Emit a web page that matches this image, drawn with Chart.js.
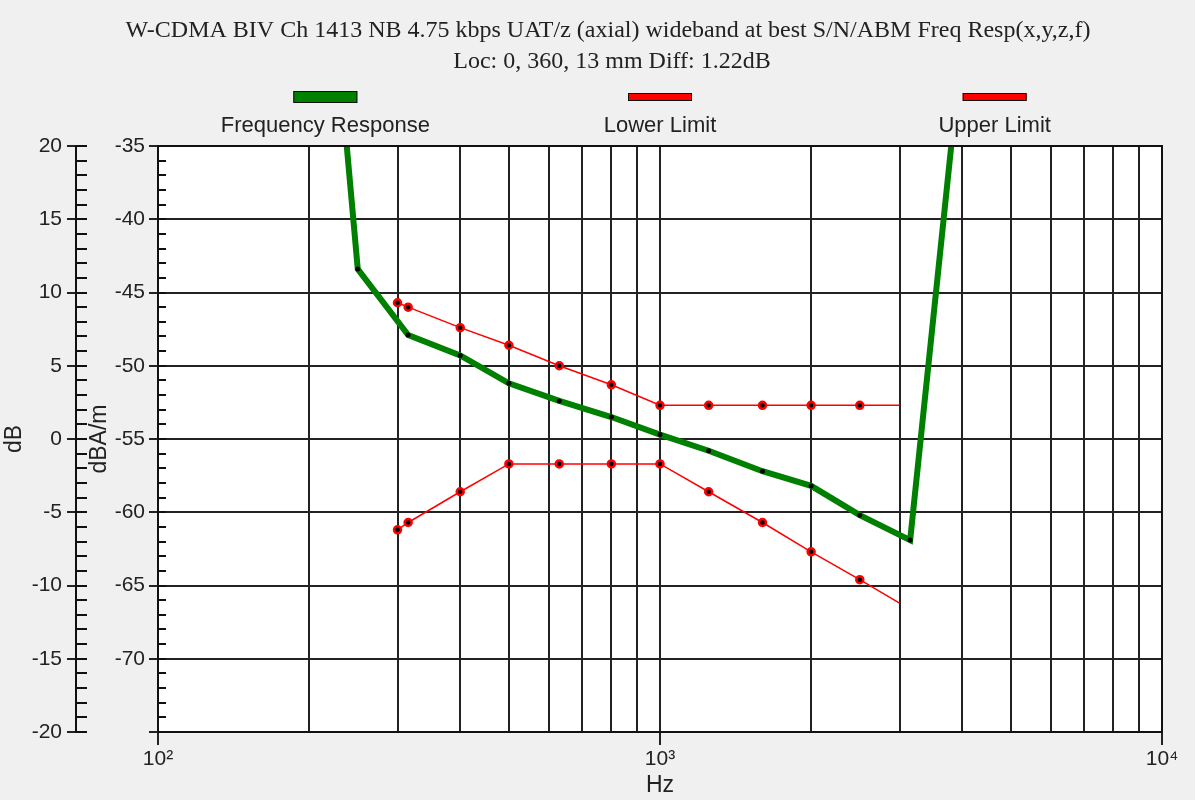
<!DOCTYPE html>
<html>
<head>
<meta charset="utf-8">
<title>Freq Resp</title>
<script src="https://cdn.jsdelivr.net/npm/chart.js@4"></script>
<style>
  body { margin: 0; background: #f0f0f0; }
  #wrap { width: 1195px; height: 800px; }
</style>
</head>
<body>
<div id="wrap"><canvas id="resp"></canvas></div>
<script>
// mitattu vaste (Hz, dBA/m)
const respFreq = [200, 250, 315, 400, 500, 630, 800, 1000, 1250, 1600, 2000, 2500, 3150, 4000];
const respLevel = [-6.3, -43.4, -47.9, -49.3, -51.2, -52.4, -53.5, -54.7, -55.8, -57.2, -58.2, -60.2, -61.9, -27.8];

// rajat
const limitFreq = [300, 315, 400, 500, 630, 800, 1000, 1250, 1600, 2000, 2500, 3000];
const lowerLevel = [-61.2, -60.7, -58.6, -56.7, -56.7, -56.7, -56.7, -58.6, -60.7, -62.7, -64.6, -66.2];
const upperLevel = [-45.7, -46.0, -47.4, -48.6, -50.0, -51.3, -52.7, -52.7, -52.7, -52.7, -52.7, -52.7];

// akselit
const xGridValues = [100, 200, 300, 400, 500, 600, 700, 800, 900,
                     1000, 2000, 3000, 4000, 5000, 6000, 7000, 8000, 9000, 10000];
const xTickValues = [100, 1000, 10000];
const xTickLabels = ['10²', '10³', '10⁴'];

const titleText = 'W-CDMA BIV Ch 1413 NB 4.75 kbps UAT/z (axial) wideband at best S/N/ABM Freq Resp(x,y,z,f)';
const subtitleText = 'Loc: 0, 360, 13 mm Diff: 1.22dB';

const sans = 'Liberation Sans';
const serif = 'Liberation Serif';
const textColor = '#222';

const toPoints = (xs, ys) => xs.map((x, i) => ({ x: x, y: ys[i] }));
const lastHidden = (n) => (ctx) => ctx.dataIndex === n - 1 ? 0 : 3.5;

// valkoinen kuva-ala + kehys + pienet tikit
const plotDecor = {
    id: 'plotDecor',
    beforeDraw(chart) {
        const { ctx, chartArea } = chart;
        ctx.save();
        ctx.fillStyle = '#fff';
        ctx.fillRect(chartArea.left, chartArea.top, chartArea.width, chartArea.height);
        ctx.restore();
    },
    afterDraw(chart) {
        const { ctx, chartArea } = chart;
        const yA = chart.scales.y;
        const yB = chart.scales.yDb;
        ctx.save();
        ctx.strokeStyle = '#111';
        ctx.lineWidth = 2;
        ctx.strokeRect(chartArea.left, chartArea.top, chartArea.width, chartArea.height);

        ctx.beginPath();
        for (let v = yA.min; v <= yA.max; v++) {
            const py = Math.round(yA.getPixelForValue(v));
            ctx.moveTo(chartArea.left, py);
            ctx.lineTo(chartArea.left + 8, py);
        }
        for (let v = yB.min; v <= yB.max; v++) {
            const py = Math.round(yB.getPixelForValue(v));
            ctx.moveTo(yB.right, py);
            ctx.lineTo(yB.right + 11, py);
        }
        ctx.stroke();
        ctx.restore();
    }
};

// otsikot + selite (laatikko tekstin yläpuolella)
const headerLegend = {
    id: 'headerLegend',
    afterDraw(chart) {
        const { ctx, chartArea } = chart;
        const sets = chart.data.datasets;
        ctx.save();
        ctx.fillStyle = textColor;
        ctx.textAlign = 'center';
        ctx.textBaseline = 'middle';
        ctx.font = '24px "' + serif + '"';
        ctx.fillText(titleText, 608, 31);
        ctx.fillText(subtitleText, 612, 62);

        sets.forEach((ds, i) => {
            const cx = chartArea.left + chartArea.width * (2 * i + 1) / (2 * sets.length);
            const h = ds.borderWidth > 3 ? 12 : 8;
            const top = chartArea.top - 49 - h / 2;
            ctx.fillStyle = ds.borderColor;
            ctx.fillRect(cx - 32, top, 64, h);
            ctx.strokeStyle = '#111';
            ctx.lineWidth = 1;
            ctx.strokeRect(cx - 32 + 0.5, top + 0.5, 63, h - 1);

            ctx.fillStyle = textColor;
            ctx.font = '22px "' + sans + '"';
            ctx.fillText(ds.label, cx, chartArea.top - 20);
        });
        ctx.restore();
    }
};

const context = document.getElementById('resp').getContext('2d');
const respChart = new Chart(context, {
    type: 'line',
    data: {
        datasets: [{
            label: 'Frequency Response',
            data: toPoints(respFreq, respLevel),
            borderColor: '#008000',
            borderWidth: 6,
            pointRadius: 2.5,
            pointBackgroundColor: '#000',
            pointBorderWidth: 0,
            tension: 0
        }, {
            label: 'Lower Limit',
            data: toPoints(limitFreq, lowerLevel),
            borderColor: '#ff0000',
            borderWidth: 1.5,
            pointRadius: lastHidden(limitFreq.length),
            pointBackgroundColor: '#000',
            pointBorderColor: '#ff0000',
            pointBorderWidth: 2.5,
            tension: 0
        }, {
            label: 'Upper Limit',
            data: toPoints(limitFreq, upperLevel),
            borderColor: '#ff0000',
            borderWidth: 1.5,
            pointRadius: lastHidden(limitFreq.length),
            pointBackgroundColor: '#000',
            pointBorderColor: '#ff0000',
            pointBorderWidth: 2.5,
            tension: 0
        }]
    },
    options: {
        responsive: true,
        maintainAspectRatio: false,
        animation: false,
        events: [],
        layout: { padding: { left: 0, right: 33, top: 146, bottom: 0 } },
        plugins: {
            legend: { display: false },
            tooltip: { enabled: false }
        },
        scales: {
            x: {
                type: 'logarithmic',
                position: 'bottom',
                min: 100,
                max: 10000,
                afterBuildTicks: (scale) => {
                    scale.ticks = xGridValues.map((v) => ({ value: v }));
                },
                afterFit: (scale) => { scale.height = 68; },
                ticks: {
                    autoSkip: false,
                    maxRotation: 0,
                    padding: 2,
                    color: textColor,
                    font: { family: sans, size: 21 },
                    callback: (value) => {
                        const k = xTickValues.indexOf(value);
                        return k >= 0 ? xTickLabels[k] : '';
                    }
                },
                grid: {
                    color: '#222',
                    lineWidth: 2,
                    tickLength: 13,
                    tickColor: (ctx) => xTickValues.includes(ctx.tick && ctx.tick.value) ? '#222' : 'rgba(0,0,0,0)'
                },
                border: { color: '#111', width: 2 },
                title: {
                    display: true,
                    text: 'Hz',
                    color: textColor,
                    font: { family: sans, size: 23 },
                    padding: { top: 0, bottom: 1 }
                }
            },
            y: {
                position: 'left',
                weight: 0,
                min: -75,
                max: -35,
                afterFit: (scale) => { scale.width = 82; },
                ticks: {
                    stepSize: 5,
                    padding: 4,
                    color: textColor,
                    font: { family: sans, size: 21 },
                    callback: (value) => value === -75 ? '' : value
                },
                grid: { color: '#222', lineWidth: 2, tickLength: 9 },
                border: { color: '#111', width: 2 },
                title: {
                    display: true,
                    text: 'dBA/m',
                    color: textColor,
                    font: { family: sans, size: 23 },
                    padding: { top: 10, bottom: 0 }
                }
            },
            yDb: {
                position: 'left',
                weight: 1,
                min: -20,
                max: 20,
                afterFit: (scale) => { scale.width = 76; },
                ticks: {
                    stepSize: 5,
                    padding: 5,
                    color: textColor,
                    font: { family: sans, size: 21 }
                },
                grid: { drawOnChartArea: false, color: '#222', lineWidth: 2, tickLength: 9 },
                border: { color: '#111', width: 2 },
                title: {
                    display: true,
                    text: 'dB',
                    color: textColor,
                    font: { family: sans, size: 23 },
                    padding: { top: 1, bottom: 0 }
                }
            }
        }
    },
    plugins: [plotDecor, headerLegend]
});
</script>
</body>
</html>
